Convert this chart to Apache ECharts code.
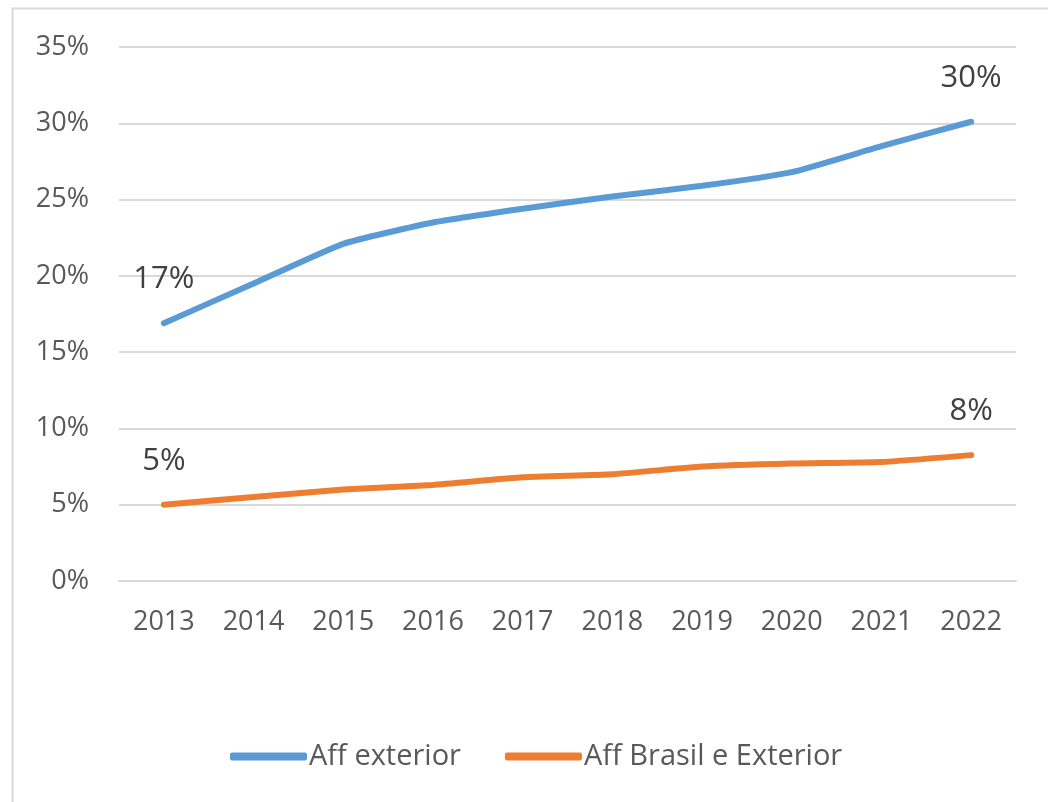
<!DOCTYPE html>
<html>
<head>
<meta charset="utf-8">
<script src="https://cdn.jsdelivr.net/npm/echarts@6/dist/echarts.min.js"></script>
<style>html,body{margin:0;padding:0;background:#fff}#c{width:1048px;height:802px}</style>
</head>
<body>
<div id="c"></div>
<script>
const years = ['2013','2014','2015','2016','2017','2018','2019','2020','2021','2022'];
const affExterior = [16.9, 19.5, 22.1, 23.5, 24.4, 25.2, 25.9, 26.8, 28.5, 30.1];
const affBrasilExterior = [5.0, 5.5, 6.0, 6.3, 6.8, 7.0, 7.5, 7.7, 7.8, 8.25];
const seriesNames = ['Aff exterior', 'Aff Brasil e Exterior'];
const colors = ['#5B9BD5', '#ED7D31'];

const chart = echarts.init(document.getElementById('c'));
const font = 'Open Sans';
function labelFn(p) {
  return (p.dataIndex === 0 || p.dataIndex === years.length - 1) ? Math.round(p.value) + '%' : '';
}
chart.setOption({
  animation: false,
  textStyle: { fontFamily: font },
  graphic: [{
    type: 'rect', left: 10, top: 6,
    shape: { width: 1100, height: 900 },
    style: { fill: 'none', stroke: '#d9d9d9', lineWidth: 2 }
  }],
  grid: { left: 119, right: 32, top: 47, bottom: 221 },
  legend: {
    bottom: 31, left: 230, padding: 0,
    itemWidth: 77, itemHeight: 8, itemGap: 44,
    textStyle: { fontSize: 29, color: '#595959', fontFamily: font, padding: [0,0,0,-3] },
    data: seriesNames.map((n, i) => ({ name: n, icon: 'roundRect', itemStyle: { color: colors[i] } }))
  },
  xAxis: {
    type: 'category', data: years,
    axisLine: { show: true, lineStyle: { color: '#d9d9d9', width: 2 } },
    axisTick: { show: false },
    axisLabel: { color: '#595959', fontSize: 27, margin: 28 }
  },
  yAxis: {
    type: 'value', min: 0, max: 35, interval: 5,
    axisLabel: { color: '#595959', fontSize: 27, margin: 30, formatter: '{value}%' },
    splitLine: { lineStyle: { color: '#d9d9d9', width: 2 } },
    axisLine: { show: false }, axisTick: { show: false }
  },
  series: [affExterior, affBrasilExterior].map((d, i) => ({
    name: seriesNames[i], type: 'line', data: d,
    symbol: 'circle', symbolSize: 0, showSymbol: true,
    smooth: 0.15,
    lineStyle: { color: colors[i], width: 6, cap: 'round' },
    itemStyle: { color: colors[i] },
    label: { show: true, position: 'top', distance: 28, formatter: labelFn, color: '#404040', fontSize: 31 },
    labelLayout: { hideOverlap: false }
  }))
});
</script>
</body>
</html>
